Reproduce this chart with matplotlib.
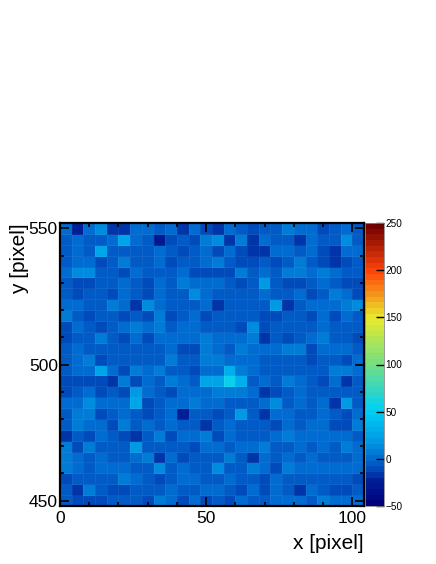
import numpy as np
import matplotlib
matplotlib.use("Agg")
import matplotlib.pyplot as plt
from matplotlib.colors import LinearSegmentedColormap, Normalize
from matplotlib.ticker import MultipleLocator

plt.rcParams['font.family'] = ['Liberation Sans', 'DejaVu Sans']

x_edges = np.arange(0, 105, 4)
y_edges = np.arange(448, 553, 4)
# rows listed top (y=552) to bottom (y=448)
counts = np.array([
[0,-22,0,10,-15,-15,-2,3,-6,0,-18,-2,-12,-15,-2,-5,-10,-6,-3,5,2,-2,-14,-5,0,-5],
[-8,2,-8,-6,2,25,-1,-5,-30,-14,-6,-10,5,12,-20,5,-15,3,-6,-4,-18,-2,-8,-6,12,-5],
[-8,0,-4,22,-8,-8,-4,-6,3,-8,-10,-8,2,-14,0,-10,-15,-15,-2,0,-6,2,-14,-18,3,0],
[-4,2,-1,-10,-8,8,-4,-6,0,-10,-4,-4,2,8,-3,-9,-9,-6,-9,-7,5,-3,-12,-18,-10,-8],
[0,12,14,-7,-8,-14,-1,-7,-7,-6,-2,-9,-9,-11,-14,6,-4,0,-4,7,5,-1,5,0,-5,-5],
[-6,-10,-13,-8,-7,-2,-3,-9,-2,-5,4,-2,3,0,-5,-12,-6,16,-7,-9,-9,-8,-2,-6,-9,-10],
[-8,-12,-4,-4,-10,0,-6,-9,0,-8,-8,12,-1,-7,-3,-3,-3,-1,-5,-8,-2,-9,-3,7,2,-9],
[-1,-2,-8,-8,5,1,-18,12,0,-5,-5,-3,-2,-15,-5,-5,-6,-8,17,-15,-6,-1,1,3,4,15],
[5,-4,-13,-5,-6,-11,-5,-14,7,-12,-5,-1,-10,-4,-4,-5,-4,-10,-13,-8,-8,-10,-2,-10,3,-8],
[-9,0,-6,-11,-3,1,4,-2,6,-4,2,0,-8,-5,-5,-12,10,-14,-6,-4,-4,-3,-1,-5,-3,-3],
[-12,-7,-4,5,-6,-14,3,-12,-2,-1,-2,-2,4,1,3,-1,6,-15,-4,-14,-6,3,6,-7,-4,-9],
[-3,1,-8,-8,-3,-7,-7,-3,-6,-2,-10,-14,6,-2,-6,4,2,2,-2,8,6,-13,-2,3,-2,-3],
[-3,2,6,-12,-4,-6,-4,-4,-3,7,-6,-8,6,6,-1,-2,-1,-3,-7,-5,-8,-13,-5,-7,-12,-1],
[-6,3,2,22,2,-9,4,2,5,-6,-6,-10,-2,0,30,8,0,-4,-6,-8,-8,-3,-8,5,5,0],
[-9,-13,-10,-10,-18,5,-13,-2,-6,5,-2,-4,22,24,52,32,-5,-1,-7,7,-2,-7,-12,3,-15,-6],
[-14,-8,2,-10,-8,-13,18,-2,-8,-11,1,0,0,4,8,6,2,-15,-13,-5,-2,-6,-7,-8,-7,-7],
[2,3,10,-1,3,2,25,-14,-3,1,-1,6,-2,1,-5,-5,-5,-2,12,-6,-2,-3,0,-20,18,-6],
[-8,4,5,-11,-7,0,-5,-14,-6,-1,-22,-6,-4,-9,-3,18,-8,-15,-1,-2,-6,-4,0,-4,-12,-1],
[-5,6,0,-1,-10,7,-8,-2,-6,2,-6,-3,-15,-7,-1,-3,-6,-8,-11,3,-8,-1,0,-9,-9,7],
[-15,-8,-10,-1,-3,-14,-16,-5,4,-12,-1,3,5,-10,-1,-3,-4,-6,3,4,-1,3,2,2,1,-3],
[8,-13,8,-5,-5,-7,16,-6,-6,-4,-3,-10,2,1,-3,-1,-1,6,-7,-6,-2,-6,-1,-8,6,0],
[6,3,-7,1,-6,-3,2,5,-15,1,-11,-8,-4,-4,4,-8,-15,-1,-5,3,-4,-2,-6,-7,-4,2],
[7,0,-6,3,2,1,-8,-8,12,-5,-2,-6,-6,12,-3,-7,5,-1,-9,8,-2,-1,0,2,3,1],
[-10,-5,-4,-3,-6,4,3,-3,-11,-8,2,3,-6,-5,-1,-6,-6,-12,1,-8,-3,-5,-4,-5,-5,-14],
[-4,-16,6,-3,-13,-12,-5,-6,-8,1,-4,-4,-1,-2,-5,-10,-2,-13,-2,-7,-18,-2,-5,-12,-12,-3],
[-8,-13,-10,-13,-6,-8,-8,-10,6,1,-13,-2,-13,-5,-12,-1,-3,-8,-1,-1,-2,-4,7,3,2,-1],
], dtype=float)
x_label = "x [pixel]"
y_label = "y [pixel]"
z_min, z_max = -50, 250
n_levels = 50
cbar_ticks = [-50, 0, 50, 100, 150, 200, 250]

palette = LinearSegmentedColormap.from_list("root_rainbow", [
    (0.0, (0/255, 0/255, 125/255)),
    (25/300, (0/255, 32/255, 152/255)),
    (35/300, (0/255, 70/255, 184/255)),
    (50/300, (0/255, 110/255, 210/255)),
    (65/300, (0/255, 150/255, 226/255)),
    (80/300, (0/255, 175/255, 236/255)),
    (100/300, (0/255, 208/255, 245/255)),
    (150/300, (115/255, 222/255, 130/255)),
    (200/300, (232/255, 235/255, 45/255)),
    (250/300, (255/255, 70/255, 10/255)),
    (1.0, (115/255, 0/255, 0/255)),
], N=n_levels)
norm = Normalize(z_min, z_max)

W, H = 436, 564
fig = plt.figure(figsize=(W/100, H/100), dpi=100, facecolor="white")
def box(l, t, r, b):
    return [l/W, 1-b/H, (r-l)/W, (b-t)/H]

ax = fig.add_axes(box(60, 223, 364, 506))
mesh = ax.pcolormesh(x_edges, y_edges, counts[::-1], cmap=palette, norm=norm,
                     edgecolors=(1, 1, 1, 0.06), linewidth=0.5)
ax.set_xlim(0, 104)
ax.set_ylim(448, 552)
ax.xaxis.set_major_locator(MultipleLocator(50))
ax.xaxis.set_minor_locator(MultipleLocator(10))
ax.yaxis.set_major_locator(MultipleLocator(50))
ax.yaxis.set_minor_locator(MultipleLocator(10))
ax.tick_params(which="both", direction="in", top=True, right=True, color="black", width=1.2)
ax.tick_params(which="major", length=6.5, labelsize=12.5)
ax.tick_params(which="minor", length=3)
ax.tick_params(axis="x", which="major", pad=3.5)
ax.tick_params(axis="y", which="major", pad=1.5)
for s in ax.spines.values():
    s.set_linewidth(1.6)
ax.set_xlabel(x_label, fontsize=15, loc="right", labelpad=6)
ax.set_ylabel(y_label, fontsize=15, loc="top", labelpad=-0.5)

cax = fig.add_axes(box(365, 223, 384, 506))
cb = fig.colorbar(mesh, cax=cax)
cb.set_ticks(cbar_ticks)
cb.ax.minorticks_off()
cax.tick_params(which="major", length=6, width=1, direction="in", right=True,
                labelsize=7.2, pad=1, color="black")
cb.outline.set_linewidth(0.6)
cb.outline.set_edgecolor("#888888")

fig.savefig("out.png", dpi=100)
